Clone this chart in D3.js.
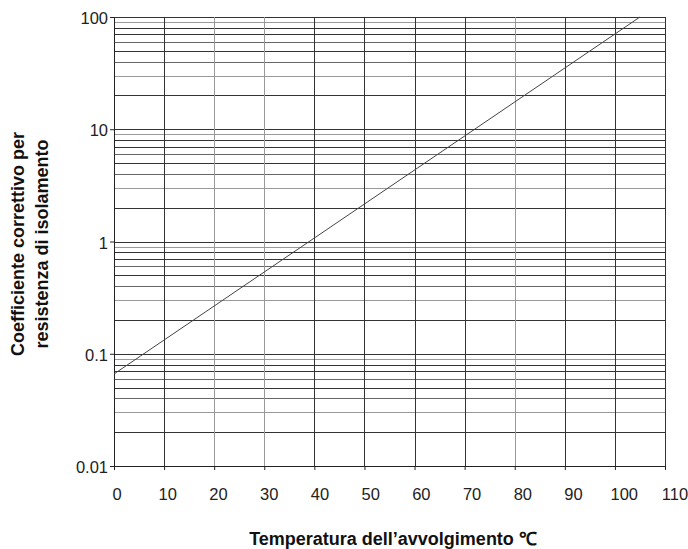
<!DOCTYPE html>
<html>
<head>
<meta charset="utf-8">
<script src="https://cdn.jsdelivr.net/npm/d3@7"></script>
<style>
  body { margin: 0; background: #fff; }
  svg text { font-family: "Liberation Sans", Arial, sans-serif; }
  .tickLabel { font-size: 16.5px; fill: #222; }
  .aText { font-size: 18px; font-weight: bold; fill: #111; }
</style>
</head>
<body>
<div id="chart"></div>
<script>
// data
var xTicks = [0, 10, 20, 30, 40, 50, 60, 70, 80, 90, 100, 110];
var yTicks = [0.01, 0.1, 1, 10, 100];
var yTickLabels = ["0.01", "0.1", "1", "10", "100"];
var curveTemp = [0, 105];
var curveCoef = [0.066, 100];

var svgWidth = 688;
var svgHeight = 549;
var margin = { top: 17, right: 23, bottom: 83, left: 114 };
var width = svgWidth - margin.left - margin.right;
var height = svgHeight - margin.top - margin.bottom;

var svg = d3.select("#chart")
  .append("svg")
  .attr("width", svgWidth)
  .attr("height", svgHeight);

var chartGroup = svg.append("g")
  .attr("transform", `translate(${margin.left}, ${margin.top})`);

var xScale = d3.scaleLinear().domain([0, 110]).range([0, width]);
var yScale = d3.scaleLog().domain([0.01, 100]).range([height, 0]);
// the printed numbers drift a little to the right of their gridlines
var xLabelScale = d3.scaleLinear().domain([0, 110]).range([3, width + 10]);

// horizontal log grid: 1..9 in every decade
var gridValues = [];
yTicks.slice(0, -1).forEach(function(d) {
  for (var m = 1; m <= 9; m++) gridValues.push(+(m * d).toPrecision(3));
});
gridValues.push(100);

function hColor(v) {
  var m = Math.round(v / Math.pow(10, Math.floor(Math.log10(v) + 1e-9)));
  if (m === 3 || m === 9) return "#999";
  if (m === 4 || m === 6) return "#666";
  return "#333";
}

chartGroup.append("g").selectAll("line")
  .data(gridValues)
  .enter()
  .append("line")
  .attr("x1", 0)
  .attr("x2", width)
  .attr("y1", d => Math.round(yScale(d)) + 0.5)
  .attr("y2", d => Math.round(yScale(d)) + 0.5)
  .attr("stroke", hColor)
  .attr("stroke-width", 1);

// vertical grid
chartGroup.append("g").selectAll("line")
  .data(xTicks)
  .enter()
  .append("line")
  .attr("x1", d => Math.round(xScale(d)) + 0.5)
  .attr("x2", d => Math.round(xScale(d)) + 0.5)
  .attr("y1", 0)
  .attr("y2", height)
  .attr("stroke", d => (d === 20 || d === 30 || d === 80) ? "#999" : "#333")
  .attr("stroke-width", 1);

// axes
var bottomAxis = d3.axisBottom(xScale).tickValues(xTicks).tickSize(4).tickFormat("");
var leftAxis = d3.axisLeft(yScale).tickValues(yTicks).tickSize(4).tickFormat("");

var xAxisG = chartGroup.append("g")
  .attr("transform", `translate(0, ${height})`)
  .call(bottomAxis);
var yAxisG = chartGroup.append("g").call(leftAxis);
[xAxisG, yAxisG].forEach(function(g) {
  g.selectAll("path, line").attr("stroke", "#222");
});

// tick labels
chartGroup.selectAll(null)
  .data(xTicks)
  .enter()
  .append("text")
  .attr("class", "tickLabel")
  .attr("x", d => xLabelScale(d))
  .attr("y", height + 34)
  .attr("text-anchor", "middle")
  .text(d => d);

chartGroup.selectAll(null)
  .data(yTicks)
  .enter()
  .append("text")
  .attr("class", "tickLabel")
  .attr("x", -6)
  .attr("y", d => yScale(d) + 7)
  .attr("text-anchor", "end")
  .text((d, i) => yTickLabels[i]);

// the correction curve
var line = d3.line()
  .x(d => xScale(d[0]))
  .y(d => yScale(d[1]));

chartGroup.append("path")
  .datum(curveTemp.map((t, i) => [t, curveCoef[i]]))
  .attr("d", line)
  .attr("fill", "none")
  .attr("stroke", "#444")
  .attr("stroke-width", 1);

// axis titles
svg.append("text")
  .attr("class", "aText")
  .attr("x", 393)
  .attr("y", 545)
  .attr("text-anchor", "middle")
  .text("Temperatura dell\u2019avvolgimento \u2103");

var yTitle = svg.append("text")
  .attr("class", "aText")
  .attr("transform", "translate(24, 244) rotate(-90)")
  .attr("text-anchor", "middle");
yTitle.append("tspan").attr("x", 0).attr("y", 0).text("Coefficiente correttivo per");
yTitle.append("tspan").attr("x", 0).attr("y", 24).text("resistenza di isolamento");
</script>
</body>
</html>
